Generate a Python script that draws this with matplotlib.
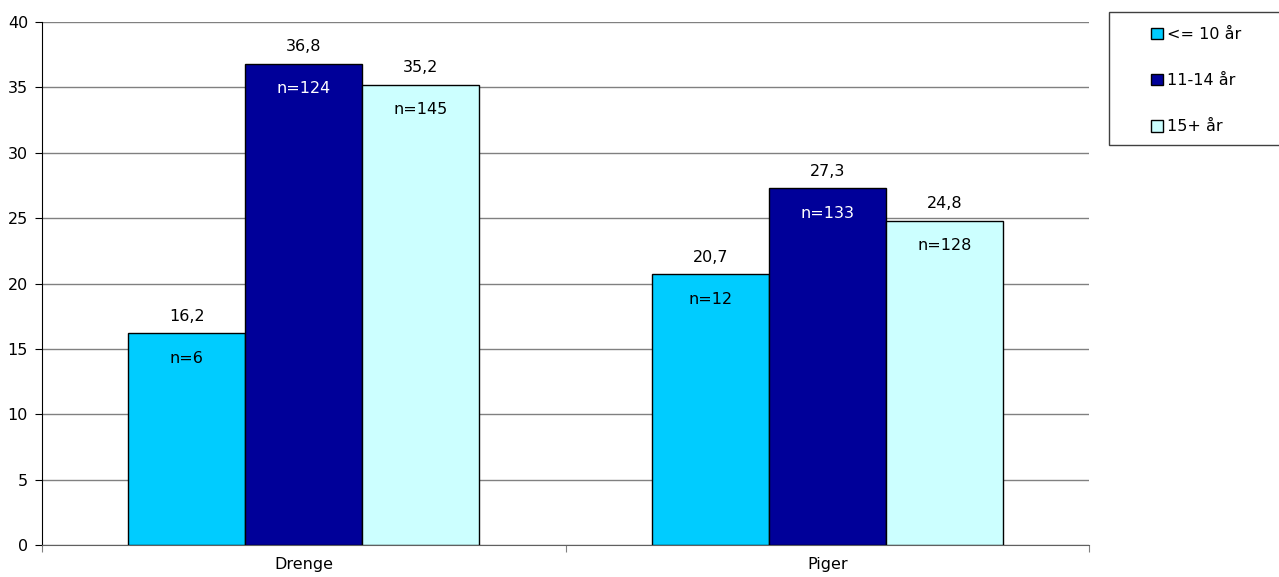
import matplotlib
matplotlib.use("Agg")
import matplotlib.pyplot as plt
from matplotlib.patches import Rectangle
import numpy as np

categories = ["Drenge", "Piger"]
series = ["<= 10 år", "11-14 år", "15+ år"]
values = [[16.2, 20.7], [36.8, 27.3], [35.2, 24.8]]
counts = [["n=6", "n=12"], ["n=124", "n=133"], ["n=145", "n=128"]]
colors = ["#00CCFF", "#000099", "#CCFFFF"]
ncolors = ["black", "white", "black"]
yticks = [0, 5, 10, 15, 20, 25, 30, 35, 40]

plt.rcParams['font.family'] = ['DejaVu Sans']
FS = 11.5

fig = plt.figure(figsize=(12.79, 5.77), dpi=100)
ax = fig.add_axes([42/1279, 32/577, (1089-42)/1279, (545-22)/577])

x = np.arange(len(categories))
w = 0.2235
for i, s in enumerate(series):
    pos = x + (i - 1) * w
    bars = ax.bar(pos, values[i], w, color=colors[i], edgecolor="black", linewidth=1, label=s, zorder=3)
    for b, v, n in zip(bars, values[i], counts[i]):
        cx = b.get_x() + b.get_width() / 2
        ax.annotate(f"{v:.1f}".replace(".", ","), (cx, v), xytext=(0, 12.2), textcoords="offset points",
                    ha="center", va="center", fontsize=FS, color="black")
        ax.annotate(n, (cx, v), xytext=(0, -18), textcoords="offset points",
                    ha="center", va="center", fontsize=FS, color=ncolors[i])

ax.set_xlim(-0.5, 1.5)
ax.set_ylim(0, 40)
ax.set_yticks(yticks)
ax.set_yticklabels([str(t) for t in yticks], fontsize=FS)
ax.yaxis.grid(True, color="#808080", linewidth=1, zorder=0)
ax.set_axisbelow(True)
ax.set_xticks([-0.5, 0.5, 1.5])
ax.set_xticklabels([])
ax.set_xticks(x, minor=True)
ax.set_xticklabels(categories, minor=True, fontsize=FS)
ax.tick_params(axis="x", which="minor", length=0, pad=9)
ax.tick_params(axis="x", which="major", length=5, color="#808080", direction="out")
ax.tick_params(axis="y", length=5, direction="out", pad=5)
for sp in ["top", "right"]:
    ax.spines[sp].set_visible(False)
ax.spines["left"].set_color("black")
ax.spines["bottom"].set_color("#606060")

# legend box
fig.patches.append(Rectangle((1109/1279, 1 - 145/577), 200/1279, 133/577, transform=fig.transFigure,
                             facecolor="white", edgecolor="#404040", linewidth=1, zorder=1))
leg = fig.legend(loc="upper left", bbox_to_anchor=(1151/1279, 1 - 27/577), fontsize=FS,
                 frameon=False, handlelength=0.75, handleheight=0.75,
                 handletextpad=0.25, labelspacing=1.95, borderpad=0, borderaxespad=0)
leg.set_zorder(2)
fig.savefig("out.png", dpi=100)
